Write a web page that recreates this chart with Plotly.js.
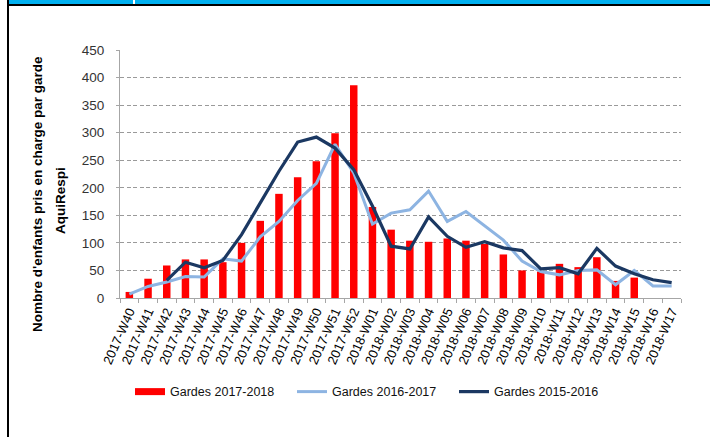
<!DOCTYPE html>
<html>
<head>
<meta charset="utf-8">
<script src="https://cdn.plot.ly/plotly-3.0.1.min.js"></script>
<style>
  html, body { margin: 0; padding: 0; background: #fff; }
  #wrap { position: relative; width: 710px; height: 437px; overflow: hidden; }
  #chart { position: absolute; left: 0; top: 0; width: 710px; height: 437px; }
  .band { position: absolute; left: 9px; top: 0; width: 701px; height: 4px; background: #00B0F0; }
  .notch { position: absolute; left: 133px; top: 0; width: 2px; height: 4px; background: #fff; }
  .topline { position: absolute; left: 7px; top: 4px; width: 703px; height: 2px; background: #000; }
  .leftline { position: absolute; left: 7px; top: 0; width: 2px; height: 437px; background: #000; }
</style>
</head>
<body>
<div id="wrap">
  <div id="chart"></div>
  <div class="band"></div>
  <div class="notch"></div>
  <div class="topline"></div>
  <div class="leftline"></div>
</div>
<script>
// Weekly categories of the season
const weeks = [
  '2017-W40','2017-W41','2017-W42','2017-W43','2017-W44','2017-W45','2017-W46',
  '2017-W47','2017-W48','2017-W49','2017-W50','2017-W51','2017-W52',
  '2018-W01','2018-W02','2018-W03','2018-W04','2018-W05','2018-W06','2018-W07',
  '2018-W08','2018-W09','2018-W10','2018-W11','2018-W12','2018-W13','2018-W14',
  '2018-W15','2018-W16','2018-W17'
];

// Children seen per on-call shift, by season
const gardes1718 = [11, 35, 59, 70, 70, 65, 100, 140, 189, 219, 248, 299, 386,
  165, 124, 104, 102, 108, 104, 98, 79, 50, 48, 62, 56, 74, 31, 37, null, null];
const gardes1617 = [7, 21, 29, 39, 38, 71, 67, 111, 139, 177, 208, 279, 227,
  134, 154, 160, 194, 139, 157, 131, 105, 67, 48, 42, 50, 51, 24, 50, 22, 22];
const gardes1516 = [null, null, 32, 65, 55, 68, 115, 172, 230, 283, 292, 272, 233,
  167, 94, 89, 147, 112, 92, 102, 91, 86, 53, 55, 44, 90, 58, 44, 33, 28];

const yTicks = [0, 50, 100, 150, 200, 250, 300, 350, 400, 450];

const RED = '#FF0000';
const LIGHT = '#8DB4E2';
const NAVY = '#1B3862';
const FONT = 'Liberation Sans, Arial, sans-serif';

const traces = [
  // legend key for the bars (wide red swatch)
  { type: 'scatter', mode: 'lines', x: [null], y: [null], name: 'Gardes 2017-2018',
    line: { color: RED, width: 7 }, hoverinfo: 'skip' },
  { type: 'bar', x: weeks, y: gardes1718, name: 'Gardes 2017-2018', showlegend: false,
    width: 0.4, marker: { color: RED, line: { width: 0 } } },
  { type: 'scatter', mode: 'lines', x: weeks, y: gardes1617, name: 'Gardes 2016-2017',
    line: { color: LIGHT, width: 3 } },
  { type: 'scatter', mode: 'lines', x: weeks, y: gardes1516, name: 'Gardes 2015-2016',
    line: { color: NAVY, width: 3.2 } }
];

const layout = {
  width: 710, height: 437,
  margin: { l: 120, r: 29, t: 50, b: 139 },
  paper_bgcolor: '#fff', plot_bgcolor: '#fff',
  font: { family: FONT, color: '#222' },
  showlegend: true,
  legend: {
    orientation: 'h', x: 0.451, xanchor: 'center', y: -0.379, yanchor: 'middle',
    font: { family: FONT, size: 12.5, color: '#111' },
    itemwidth: 30, traceorder: 'normal', entrywidth: 117, entrywidthmode: 'pixels'
  },
  xaxis: {
    type: 'category', categoryorder: 'array', categoryarray: weeks,
    range: [-0.5, weeks.length - 0.5],
    tickangle: -66, tickfont: { family: FONT, size: 13, color: '#000' },
    showline: true, linecolor: '#A6A6A6', linewidth: 1,
    ticks: 'outside', tickson: 'boundaries', ticklen: 4, tickcolor: '#A6A6A6',
    showgrid: false, zeroline: false, fixedrange: true
  },
  yaxis: {
    range: [0, 450], tickvals: yTicks, ticktext: yTicks.map(String),
    tickfont: { family: FONT, size: 13.5, color: '#333' },
    showline: true, linecolor: '#A6A6A6', linewidth: 1,
    ticks: 'outside', ticklen: 3, tickcolor: '#A6A6A6', ticklabelstandoff: 9,
    showgrid: true, gridcolor: '#9A9A9A', gridwidth: 1, griddash: '4px,2.5px',
    zeroline: false, fixedrange: true
  },
  annotations: [
    { text: "<b>Nombre d'enfants pris en charge par garde</b>", xref: 'paper', yref: 'paper',
      x: -0.146, y: 0.42, xanchor: 'center', yanchor: 'middle', textangle: -90,
      showarrow: false, font: { family: FONT, size: 13.5, color: '#000' } },
    { text: '<b>AquiRespi</b>', xref: 'paper', yref: 'paper',
      x: -0.107, y: 0.395, xanchor: 'center', yanchor: 'middle', textangle: -90,
      showarrow: false, font: { family: FONT, size: 13.5, color: '#000' } }
  ],
  bargap: 0.6
};

Plotly.newPlot('chart', traces, layout, { displayModeBar: false, staticPlot: true });
</script>
</body>
</html>
